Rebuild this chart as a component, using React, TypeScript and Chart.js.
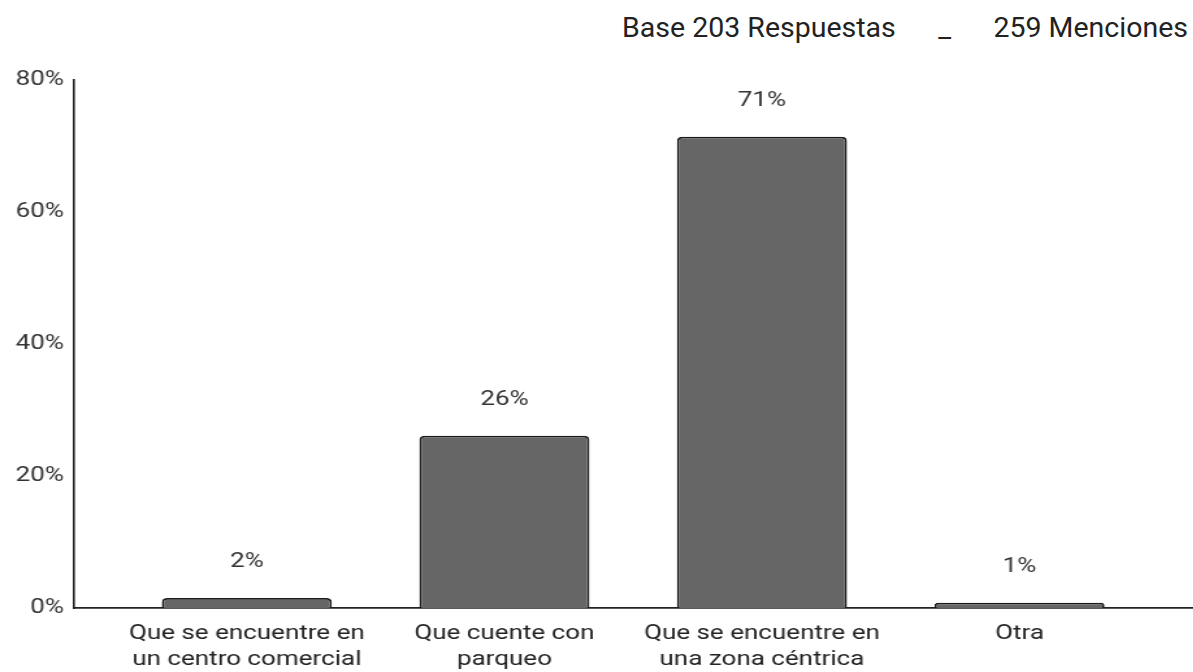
import React, { useEffect, useRef } from "react";
import { Chart, registerables } from "chart.js";

Chart.register(...registerables);

const categories: string[][] = [
  ["Que se encuentre en", "un centro comercial"],
  ["Que cuente con", "parqueo"],
  ["Que se encuentre en", "una zona céntrica"],
  ["Otra"],
];
const values: number[] = [1.5, 26.1, 71.4, 0.8];
const valueLabels: string[] = ["2%", "26%", "71%", "1%"];
const yTicks: number[] = [0, 20, 40, 60, 80];
const titleText = "Base 203 Respuestas      _      259 Menciones";

const FONT = "Roboto, 'Noto Sans', sans-serif";
const STRETCH = 1.3;

const barLabelPlugin = {
  id: "barLabels",
  afterDatasetsDraw(chart: any) {
    const ctx = chart.ctx;
    const meta = chart.getDatasetMeta(0);
    ctx.save();
    ctx.font = `20px ${FONT}`;
    ctx.fillStyle = "#333333";
    ctx.textAlign = "center";
    ctx.textBaseline = "middle";
    meta.data.forEach((bar: any, i: number) => {
      ctx.fillText(valueLabels[i], bar.x, bar.y - 36);
    });
    ctx.restore();
  },
};

export default function App() {
  const ref = useRef<HTMLCanvasElement>(null);
  useEffect(() => {
    if (!ref.current) return;
    const chart = new Chart(ref.current, {
      type: "bar",
      data: {
        datasets: [
          {
            data: values.map((v, i) => ({ x: i, y: v })),
            backgroundColor: "#666666",
            borderColor: "#1a1a1a",
            borderWidth: 1.7,
            borderRadius: 4,
            borderSkipped: "bottom",
            barPercentage: 0.66,
            categoryPercentage: 1,
          },
        ],
      },
      options: {
        animation: false,
        responsive: true,
        maintainAspectRatio: false,
        layout: { padding: { left: 4, right: 1, top: 80, bottom: -14 } },
        plugins: {
          legend: { display: false },
          tooltip: { enabled: false },
          title: { display: false },
        },
        scales: {
          x: {
            type: "linear",
            min: -0.67,
            max: 3.67,
            offset: false,
            grid: { display: false, drawTicks: false },
            border: { display: true, color: "#222222", width: 1.8 },
            ticks: {
              stepSize: 1,
              includeBounds: false,
              autoSkip: false,
              maxRotation: 0,
              padding: 13,
              color: "#222222",
              font: { family: FONT, size: 20, lineHeight: 1.3 },
              callback: (v: any) => {
                const n = Number(v);
                return Number.isInteger(n) && categories[n] ? categories[n] : "";
              },
            },
          },
          y: {
            min: 0,
            max: 80,
            grid: { display: false, drawTicks: false },
            border: { display: true, color: "#222222", width: 1.6 },
            afterBuildTicks: (scale: any) => {
              scale.ticks = yTicks.map((v) => ({ value: v }));
            },
            ticks: {
              padding: 8,
              color: "#333333",
              font: { family: FONT, size: 20 },
              callback: (v: any) => `${v}%`,
            },
          },
        },
      },
      plugins: [barLabelPlugin],
    } as any);
    return () => chart.destroy();
  }, []);
  return (
    <div
      style={{
        position: "fixed",
        left: 0,
        top: 0,
        width: "1193px",
        height: "672px",
        overflow: "hidden",
        background: "#ffffff",
      }}
    >
      <div
        style={{
          position: "absolute",
          right: "5px",
          top: "14px",
          fontFamily: FONT,
          fontSize: "28.5px",
          lineHeight: "28px",
          color: "#222222",
          whiteSpace: "pre",
        }}
      >
        {titleText}
      </div>
      <div
        style={{
          position: "absolute",
          left: 0,
          top: 0,
          width: `${Math.round(1193 / STRETCH)}px`,
          height: "672px",
          transform: `scaleX(${STRETCH})`,
          transformOrigin: "0 0",
        }}
      >
        <canvas ref={ref} />
      </div>
    </div>
  );
}
